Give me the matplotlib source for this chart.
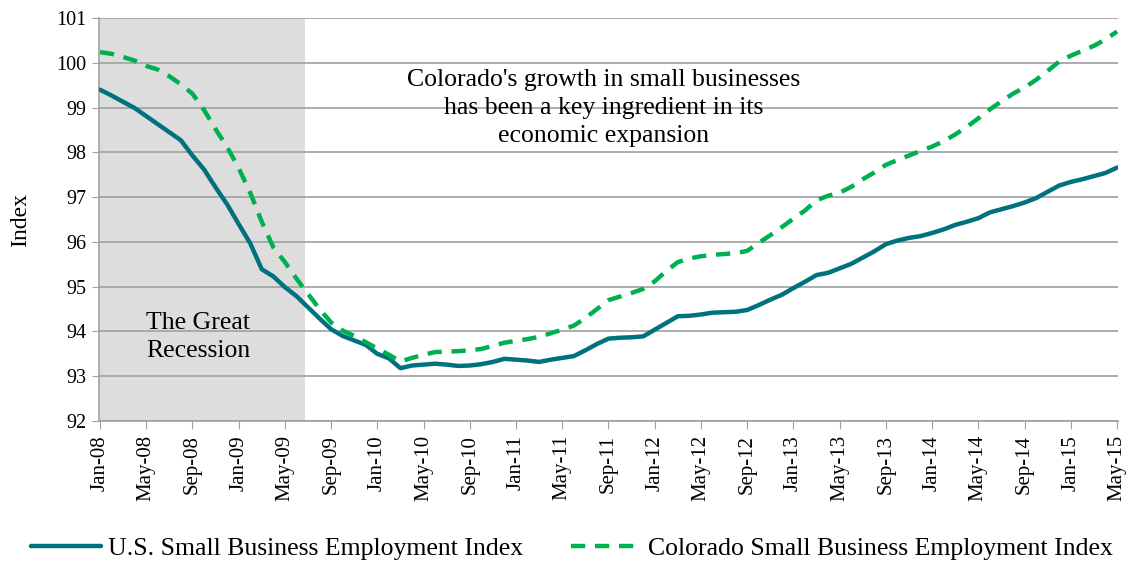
import matplotlib
matplotlib.use("Agg")
import matplotlib.pyplot as plt
import numpy as np

# monthly index values, Jan-08 .. May-15
us_index = [
    99.40, 99.27, 99.13, 98.99, 98.81, 98.63, 98.45, 98.27, 97.93, 97.62,
    97.22, 96.84, 96.40, 95.97, 95.39, 95.23, 94.99, 94.79, 94.54, 94.29,
    94.05, 93.90, 93.80, 93.70, 93.50, 93.40, 93.18, 93.24, 93.26, 93.28,
    93.26, 93.23, 93.24, 93.27, 93.32, 93.39, 93.37, 93.35, 93.32, 93.37,
    93.41, 93.45, 93.58, 93.72, 93.84, 93.86, 93.87, 93.89, 94.04, 94.19,
    94.34, 94.35, 94.38, 94.42, 94.43, 94.44, 94.48, 94.59, 94.71, 94.82,
    94.97, 95.11, 95.26, 95.31, 95.41, 95.51, 95.65, 95.79, 95.95, 96.03,
    96.09, 96.13, 96.20, 96.28, 96.38, 96.45, 96.53, 96.66, 96.73, 96.80,
    96.88, 96.98, 97.12, 97.26, 97.34, 97.40, 97.47, 97.54, 97.66,
]
co_index = [
    100.24, 100.20, 100.13, 100.05, 99.93, 99.85, 99.70, 99.52, 99.31, 98.95,
    98.52, 98.12, 97.65, 97.10, 96.45, 95.88, 95.55, 95.18, 94.84, 94.50,
    94.20, 94.02, 93.90, 93.76, 93.62, 93.48, 93.33, 93.41, 93.48, 93.54,
    93.55, 93.56, 93.58, 93.61, 93.68, 93.75, 93.79, 93.83, 93.88, 93.96,
    94.04, 94.13, 94.30, 94.50, 94.70, 94.78, 94.86, 94.95, 95.12, 95.35,
    95.55, 95.63, 95.68, 95.71, 95.73, 95.75, 95.80, 95.98, 96.15, 96.33,
    96.52, 96.70, 96.93, 97.03, 97.10, 97.23, 97.40, 97.55, 97.72, 97.83,
    97.93, 98.03, 98.13, 98.25, 98.40, 98.57, 98.76, 98.96, 99.14, 99.31,
    99.45, 99.62, 99.82, 100.03, 100.16, 100.27, 100.38, 100.52, 100.70,
]
tick_labels = [
    "Jan-08", "May-08", "Sep-08", "Jan-09", "May-09", "Sep-09", "Jan-10",
    "May-10", "Sep-10", "Jan-11", "May-11", "Sep-11", "Jan-12", "May-12",
    "Sep-12", "Jan-13", "May-13", "Sep-13", "Jan-14", "May-14", "Sep-14",
    "Jan-15", "May-15",
]
recession_end = 17.75   # shaded through mid 2009

plt.rcParams['font.family'] = ['Liberation Serif', 'DejaVu Serif']

months = np.arange(len(us_index))
grid_c = "#a0a0a0"

fig = plt.figure(figsize=(11.28, 5.64), dpi=100)
ax = fig.add_axes([0.0878, 0.2535, 0.9035, 0.7145])

ax.axvspan(0, recession_end, color="#dddddd", zorder=0, lw=0)
ax.plot(months, us_index, color="#00727f", lw=3.2, zorder=3,
        solid_capstyle="round", label="U.S. Small Business Employment Index")
ax.plot(months, co_index, color="#00b050", lw=3.2, zorder=3,
        dashes=(3.2, 2.2), label="Colorado Small Business Employment Index")

ax.set_xlim(-0.08, 88.1)
ax.set_ylim(92, 101)
ax.set_yticks(range(92, 102))
ax.set_xticks(months[::4])
ax.set_xticklabels(tick_labels, rotation=90, fontsize=15)
ax.tick_params(axis="y", labelsize=14.5, length=5, color=grid_c, pad=4)
ax.tick_params(axis="x", length=6, color=grid_c, pad=4)
ax.grid(axis="y", color=grid_c, lw=1.2, zorder=1)
ax.set_axisbelow(True)
for s in ["top", "right"]:
    ax.spines[s].set_visible(False)
for s in ["left", "bottom"]:
    ax.spines[s].set_color(grid_c)
    ax.spines[s].set_linewidth(1.2)
ax.set_ylabel("Index", fontsize=17, labelpad=18)

ax.text(43.6, 99.0, "Colorado's growth in small businesses\nhas been a key ingredient in its\neconomic expansion",
        ha="center", va="center", fontsize=18.5, linespacing=1.35)
ax.text(8.5, 93.87, "The Great\nRecession", ha="center", va="center",
        fontsize=18.5, linespacing=1.35)

fig.legend(loc="center", bbox_to_anchor=(0.507, 0.028), ncol=2, frameon=False,
           fontsize=18.5, handlelength=2.72, handletextpad=0.27, columnspacing=1.87)

fig.savefig("out.png", dpi=100)
